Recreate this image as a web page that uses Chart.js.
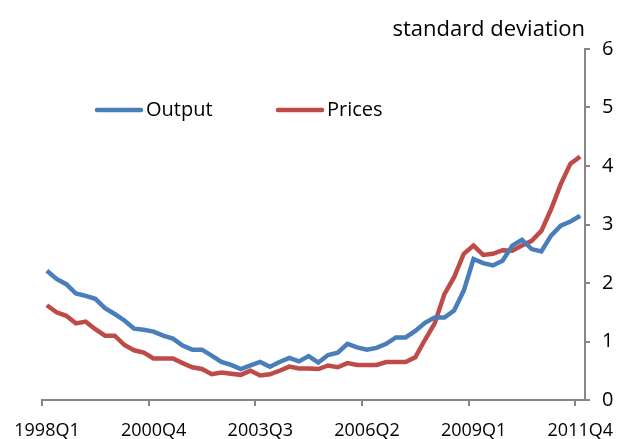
<!DOCTYPE html>
<html>
<head>
  <title>Output and prices</title>
  <script src="https://cdn.jsdelivr.net/npm/chart.js"></script>
  <style>
    html, body { margin: 0; padding: 0; background: #fff; }
    #wrap { width: 618px; height: 439px; }
  </style>
</head>
<body>
  <div id="wrap"><canvas id="chart"></canvas></div>
  <script>
    // quarters 1998Q1 .. 2011Q4
    const quarters = [];
    for (let y = 1998; y <= 2011; y++) {
      for (let q = 1; q <= 4; q++) quarters.push(y + 'Q' + q);
    }
    const tickQuarters = ['1998Q1', '2000Q4', '2003Q3', '2006Q2', '2009Q1', '2011Q4'];

    const output = [2.21, 2.07, 1.98, 1.82, 1.78, 1.73, 1.57, 1.47, 1.36, 1.22,
                    1.20, 1.17, 1.10, 1.05, 0.93, 0.86, 0.86, 0.76, 0.65, 0.60,
                    0.53, 0.59, 0.65, 0.57, 0.65, 0.72, 0.66, 0.75, 0.64, 0.77,
                    0.81, 0.96, 0.90, 0.86, 0.89, 0.96, 1.07, 1.07, 1.18, 1.32,
                    1.41, 1.41, 1.53, 1.87, 2.41, 2.34, 2.30, 2.38, 2.64, 2.74,
                    2.58, 2.54, 2.81, 2.98, 3.05, 3.15];
    const prices = [1.62, 1.50, 1.44, 1.31, 1.34, 1.21, 1.10, 1.10, 0.94, 0.85,
                    0.81, 0.71, 0.71, 0.71, 0.63, 0.56, 0.53, 0.44, 0.47, 0.45,
                    0.43, 0.50, 0.42, 0.44, 0.50, 0.57, 0.54, 0.54, 0.53, 0.59,
                    0.56, 0.63, 0.60, 0.60, 0.60, 0.65, 0.65, 0.65, 0.73, 1.03,
                    1.31, 1.81, 2.10, 2.50, 2.64, 2.48, 2.50, 2.56, 2.55, 2.64,
                    2.72, 2.89, 3.26, 3.69, 4.04, 4.16];
    const yTicks = [0, 1, 2, 3, 4, 5, 6];

    const fontFamily = '"Open Sans", sans-serif';
    const axisGray = '#868686';

    const overlay = {
      id: 'overlay',
      afterDraw(chart) {
        const ctx = chart.ctx;
        const area = chart.chartArea;
        ctx.save();
        ctx.fillStyle = '#000';
        ctx.textBaseline = 'alphabetic';
        ctx.textAlign = 'right';
        ctx.font = '22px ' + fontFamily;
        ctx.fillText('standard deviation', area.right, 36);
        // legend inside the plot
        ctx.font = '20px ' + fontFamily;
        const starts = [97, 278];
        chart.data.datasets.forEach((ds, i) => {
          const x = starts[i];
          ctx.strokeStyle = ds.borderColor;
          ctx.lineWidth = 4.5;
          ctx.lineCap = 'round';
          ctx.beginPath();
          ctx.moveTo(x, 110);
          ctx.lineTo(x + 44, 110);
          ctx.stroke();
          ctx.textAlign = 'left';
          ctx.fillText(ds.label, x + 49, 116);
        });
        ctx.restore();
      }
    };

    new Chart(document.getElementById('chart'), {
      type: 'line',
      data: {
        datasets: [
          {
            label: 'Output',
            data: output.map((v, i) => ({ x: i, y: v })),
            borderColor: '#4A7EBB',
            borderWidth: 4.5,
            pointRadius: 0,
            tension: 0
          },
          {
            label: 'Prices',
            data: prices.map((v, i) => ({ x: i, y: v })),
            borderColor: '#BE4B48',
            borderWidth: 4.5,
            pointRadius: 0,
            tension: 0
          }
        ]
      },
      options: {
        responsive: true,
        maintainAspectRatio: false,
        animation: false,
        layout: { autoPadding: false, padding: { left: 42, right: 4, top: 49, bottom: 0 } },
        plugins: { legend: { display: false }, tooltip: { enabled: false } },
        scales: {
          x: {
            type: 'linear',
            min: -0.5,
            max: quarters.length - 0.5,
            // tick marks sit on category boundaries, labels under the category
            afterBuildTicks: (scale) => {
              scale.ticks = tickQuarters.map(q => ({ value: quarters.indexOf(q) - 0.5 }));
            },
            afterFit: (scale) => {
              scale.paddingLeft = 0;
              scale.paddingRight = 0;
              scale.height = 39;
            },
            ticks: {
              autoSkip: false,
              maxRotation: 0,
              padding: 14,
              labelOffset: 5,
              color: '#000',
              font: { family: fontFamily, size: 18 },
              callback: (v) => quarters[Math.round(v + 0.5)]
            },
            grid: { drawOnChartArea: false, drawTicks: true, tickLength: 6, color: axisGray, lineWidth: 2 },
            border: { color: axisGray, width: 2 }
          },
          y: {
            position: 'right',
            min: 0,
            max: 6,
            afterBuildTicks: (scale) => {
              scale.ticks = yTicks.map(v => ({ value: v }));
            },
            afterFit: (scale) => {
              scale.width = 29;
            },
            ticks: {
              padding: 12,
              color: '#000',
              font: { family: fontFamily, size: 20 }
            },
            grid: { drawOnChartArea: false, drawTicks: true, tickLength: 5, color: axisGray, lineWidth: 2 },
            border: { color: axisGray, width: 2 }
          }
        }
      },
      plugins: [overlay]
    });
  </script>
</body>
</html>
